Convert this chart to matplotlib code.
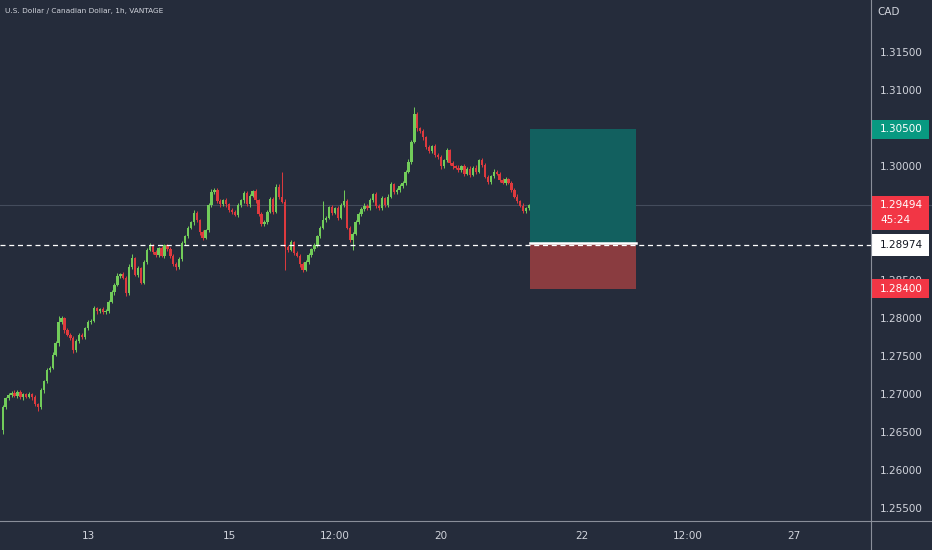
import numpy as np
import matplotlib
matplotlib.use('Agg')
from matplotlib import pyplot as plt
from matplotlib.patches import Rectangle
from matplotlib.lines import Line2D

# USDCAD 1h candles
first_open = 1.2654
closes = [
    1.2684, 1.2696, 1.2700, 1.2703, 1.2699, 1.2704, 1.2697, 1.2701, 1.2698, 1.2701,
    1.2697, 1.2688, 1.2684, 1.2706, 1.2718, 1.2733, 1.2736, 1.2753, 1.2768, 1.2796,
    1.2801, 1.2785, 1.2779, 1.2775, 1.2759, 1.2771, 1.2779, 1.2776, 1.2788, 1.2796,
    1.2798, 1.2814, 1.2810, 1.2813, 1.2809, 1.2811, 1.2823, 1.2835, 1.2845, 1.2857,
    1.2859, 1.2854, 1.2834, 1.2869, 1.2880, 1.2858, 1.2867, 1.2848, 1.2875, 1.2891,
    1.2897, 1.2888, 1.2884, 1.2893, 1.2883, 1.2897, 1.2892, 1.2883, 1.2872, 1.2868,
    1.2879, 1.2900, 1.2909, 1.2920, 1.2927, 1.2939, 1.2930, 1.2914, 1.2907, 1.2917,
    1.2950, 1.2967, 1.2970, 1.2955, 1.2951, 1.2956, 1.2951, 1.2943, 1.2941, 1.2937,
    1.2950, 1.2956, 1.2966, 1.2951, 1.2962, 1.2968, 1.2956, 1.2938, 1.2925, 1.2928,
    1.2941, 1.2958, 1.2941, 1.2974, 1.2961, 1.2954, 1.2895, 1.2891, 1.2901, 1.2887,
    1.2883, 1.2872, 1.2865, 1.2875, 1.2884, 1.2892, 1.2897, 1.2909, 1.2920, 1.2930,
    1.2933, 1.2947, 1.2940, 1.2946, 1.2933, 1.2950, 1.2955, 1.2920, 1.2904, 1.2912,
    1.2928, 1.2938, 1.2945, 1.2949, 1.2946, 1.2956, 1.2964, 1.2949, 1.2946, 1.2959,
    1.2950, 1.2961, 1.2977, 1.2967, 1.2970, 1.2975, 1.2979, 1.2994, 1.3007, 1.3033,
    1.3070, 1.3051, 1.3047, 1.3039, 1.3026, 1.3021, 1.3027, 1.3016, 1.3013, 1.3001,
    1.3009, 1.3022, 1.3005, 1.3001, 1.2999, 1.2996, 1.3001, 1.2991, 1.2998, 1.2990,
    1.2999, 1.2994, 1.3009, 1.3003, 1.2987, 1.2980, 1.2988, 1.2994, 1.2991, 1.2983,
    1.2979, 1.2984, 1.2979, 1.2970, 1.2961, 1.2955, 1.2949, 1.2942, 1.2946, 1.29494,
]
# wick lengths above / below the body, in pips
wick_up = [
    3, 2, 3, 2, 3, 2, 3, 2, 2, 3,
    2, 3, 2, 3, 2, 3, 2, 4, 3, 8,
    3, 2, 3, 2, 2, 3, 2, 3, 2, 3,
    2, 3, 2, 2, 3, 2, 2, 3, 2, 3,
    2, 3, 2, 3, 5, 2, 3, 2, 3, 2,
    3, 2, 3, 2, 3, 2, 2, 3, 2, 3,
    2, 3, 2, 3, 2, 4, 3, 2, 3, 2,
    3, 4, 3, 2, 3, 2, 3, 2, 3, 2,
    3, 2, 3, 2, 3, 2, 3, 2, 3, 2,
    3, 2, 3, 4, 3, 32, 4, 3, 3, 2,
    3, 2, 3, 2, 3, 2, 3, 2, 3, 25,
    3, 2, 3, 2, 3, 2, 15, 3, 2, 3,
    2, 3, 2, 3, 2, 3, 2, 3, 2, 3,
    2, 3, 3, 2, 3, 2, 3, 2, 3, 3,
    9, 3, 2, 3, 2, 3, 2, 3, 2, 3,
    2, 3, 2, 3, 2, 3, 2, 3, 2, 3,
    2, 3, 2, 3, 2, 3, 2, 3, 2, 3,
    2, 3, 2, 3, 2, 3, 2, 3, 2, 2,
]
wick_dn = [
    5, 2, 3, 2, 2, 3, 2, 3, 2, 2,
    3, 2, 5, 2, 3, 2, 3, 2, 2, 3,
    2, 3, 2, 3, 4, 2, 3, 2, 2, 3,
    2, 2, 3, 2, 3, 2, 3, 2, 3, 2,
    3, 2, 4, 2, 3, 2, 3, 2, 2, 3,
    2, 3, 2, 3, 2, 3, 2, 3, 2, 3,
    2, 3, 2, 3, 2, 3, 2, 3, 3, 2,
    3, 2, 3, 2, 3, 2, 3, 2, 3, 2,
    3, 2, 3, 2, 3, 2, 3, 2, 3, 2,
    3, 2, 3, 2, 3, 2, 31, 3, 2, 3,
    2, 3, 3, 2, 3, 2, 3, 2, 3, 2,
    3, 2, 3, 2, 3, 2, 3, 2, 3, 13,
    2, 3, 2, 3, 2, 3, 2, 3, 2, 3,
    2, 3, 2, 3, 2, 3, 2, 3, 2, 3,
    2, 3, 2, 3, 2, 3, 2, 3, 2, 3,
    2, 3, 2, 3, 2, 3, 2, 3, 2, 3,
    2, 3, 2, 3, 2, 3, 2, 3, 2, 3,
    2, 3, 2, 3, 2, 3, 2, 3, 2, 2,
]

time_labels = ['13', '15', '12:00', '20', '22', '12:00', '27']
time_bars = [29, 77, 113, 149, 197, 233, 269]   # hours from first bar
# price scale labels left visible by the tags
price_ticks = [1.255, 1.260, 1.265, 1.270, 1.275, 1.280, 1.285,
               1.300, 1.310, 1.315]

# long position tool
entry = 1.2900
take_profit = 1.3050
stop_loss = 1.2840
position_hours = 36
last_price = 1.29494
countdown = '45:24'
marker_price = 1.28974

bg = '#252c3b'
txt = '#d1d4dc'
up_col = '#72cc5a'
dn_col = '#de3a3e'

closes = np.array(closes)
opens = np.concatenate([[first_open], closes[:-1]])
body_top = np.maximum(opens, closes)
body_bot = np.minimum(opens, closes)
highs = body_top + np.array(wick_up) * 0.0001
lows = body_bot - np.array(wick_dn) * 0.0001
x = np.arange(len(closes))
rising = closes >= opens
colors = np.where(rising, up_col, dn_col)

fig = plt.figure(figsize=(9.32, 5.5), dpi=100, facecolor=bg)
ax = fig.add_axes([0, 29 / 550, 871 / 932, 521 / 550], facecolor=bg)
axr = fig.add_axes([871 / 932, 29 / 550, 61 / 932, 521 / 550], facecolor=bg)

ylim = (1.315 - 468 / 7600, 1.315 + 53 / 7600)
ax.set_xlim(-0.93, 295.3)
ax.set_ylim(*ylim)
axr.set_xlim(0, 1)
axr.set_ylim(*ylim)

# candles
ax.vlines(x, lows, highs, colors=colors, linewidth=0.7, zorder=3)
heights = np.maximum(body_top - body_bot, 0.00002)
ax.bar(x, heights, bottom=body_bot, width=0.8, color=colors, linewidth=0, zorder=4)

# current price line and dashed marker line
ax.axhline(last_price, color='#444c5c', linewidth=0.8, zorder=2)
axr.axhline(last_price, color='#444c5c', linewidth=0.8, zorder=1)
ax.axhline(marker_price, color='white', linewidth=0.9, dashes=(4, 3), zorder=6)

# position box
x0 = x[-1] + 0.3
ax.add_patch(Rectangle((x0, entry), position_hours, take_profit - entry,
                       facecolor='#12605f', edgecolor='none', zorder=5))
ax.add_patch(Rectangle((x0, stop_loss), position_hours, entry - stop_loss,
                       facecolor='#8a3c40', edgecolor='none', zorder=5))
ax.plot([x0, x0 + position_hours], [entry, entry], color='white', linewidth=1.8, zorder=5.5)

# axes cosmetics
for a in (ax, axr):
    for s in a.spines.values():
        s.set_visible(False)
    a.set_yticks([])
ax.set_xticks(time_bars)
ax.set_xticklabels(time_labels, color=txt, fontsize=7.5)
ax.tick_params(axis='x', length=0, pad=7)
axr.set_xticks([])

for p in price_ticks:
    axr.text(0.15, p, '%.5f' % p, color=txt, fontsize=7.5, va='center', ha='left', zorder=2)

def price_tag(price, text, face, fg, h=19, dy=0):
    hh = h / 7600
    axr.add_patch(Rectangle((0, price - hh / 2 - dy), 0.95, hh, facecolor=face,
                            edgecolor='none', zorder=5, clip_on=False))
    axr.text(0.15, price, text, color=fg, fontsize=7.5, va='center', ha='left', zorder=6)

price_tag(take_profit, '%.5f' % take_profit, '#089981', 'white')
price_tag(stop_loss, '%.5f' % stop_loss, '#f23645', 'white')
price_tag(marker_price, '%.5f' % marker_price, 'white', '#131722', h=22)
price_tag(last_price, '%.5f' % last_price, '#f23645', 'white', h=34, dy=8 / 7600)
axr.text(0.15, last_price - 15 / 7600, countdown, color='white', fontsize=7.5,
         va='center', ha='left', zorder=6)

fig.text(877 / 932, 1 - 12 / 550, 'CAD', color=txt, fontsize=7.5, va='center', ha='left')
fig.text(5 / 932, 1 - 11 / 550, 'U.S. Dollar / Canadian Dollar, 1h, VANTAGE',
         color=txt, fontsize=5.3, va='center', ha='left')

# axis frame lines
fig.add_artist(Line2D([0, 1], [29 / 550, 29 / 550], color='#8a8f9a', linewidth=0.8))
fig.add_artist(Line2D([871 / 932, 871 / 932], [0, 1], color='#8a8f9a', linewidth=0.8))

fig.savefig('out.png', dpi=100, facecolor=bg)
